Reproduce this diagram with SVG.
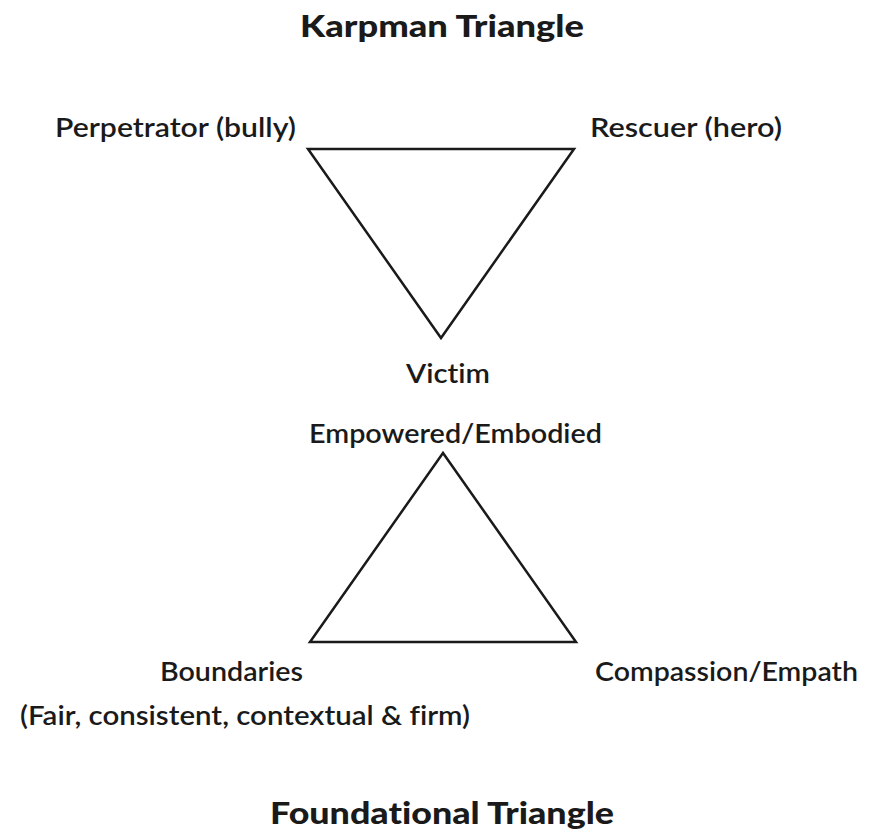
<svg xmlns="http://www.w3.org/2000/svg" width="879" height="831" viewBox="0 0 879 831">
<style>
text{font-variant-ligatures:none}
.t{font-family:"Lato","Open Sans","Liberation Sans",sans-serif;font-size:27px;font-weight:600;fill:#1a1a1a}
.h{font-family:"Lato","Open Sans","Liberation Sans",sans-serif;font-size:31px;font-weight:900;fill:#1a1a1a}
.tri{fill:none;stroke:#1a1a1a;stroke-width:2.5;stroke-linejoin:miter}
</style>
<rect width="879" height="831" fill="#fff"/>
<text class="h" x="300" y="37" textLength="284" lengthAdjust="spacingAndGlyphs">Karpman Triangle</text>
<g id="karpman">
<polygon class="tri" points="308,149 574,149 441,338"/>
</g>
<g id="perpetrator"><text class="t" x="55" y="137" textLength="241" lengthAdjust="spacingAndGlyphs">Perpetrator (bully)</text></g>
<g id="rescuer"><text class="t" x="590" y="137" textLength="192" lengthAdjust="spacingAndGlyphs">Rescuer (hero)</text></g>
<g id="victim"><text class="t" x="406" y="383" textLength="84" lengthAdjust="spacingAndGlyphs">Victim</text></g>
<g id="foundational">
<polygon class="tri" points="443,453 310,642 576,642"/>
</g>
<g id="empowered"><text class="t" x="309" y="443" textLength="293" lengthAdjust="spacingAndGlyphs">Empowered/Embodied</text></g>
<g id="boundaries"><text class="t" x="160" y="681" textLength="143" lengthAdjust="spacingAndGlyphs">Boundaries</text>
<text class="t" x="20" y="725" textLength="450" lengthAdjust="spacingAndGlyphs">(Fair, consistent, contextual &amp; firm)</text></g>
<g id="compassion"><text class="t" x="595" y="681" textLength="263" lengthAdjust="spacingAndGlyphs">Compassion/Empath</text></g>
<text class="h" x="270" y="824" textLength="344" lengthAdjust="spacingAndGlyphs">Foundational Triangle</text>
<g id="connectors"/>
</svg>
